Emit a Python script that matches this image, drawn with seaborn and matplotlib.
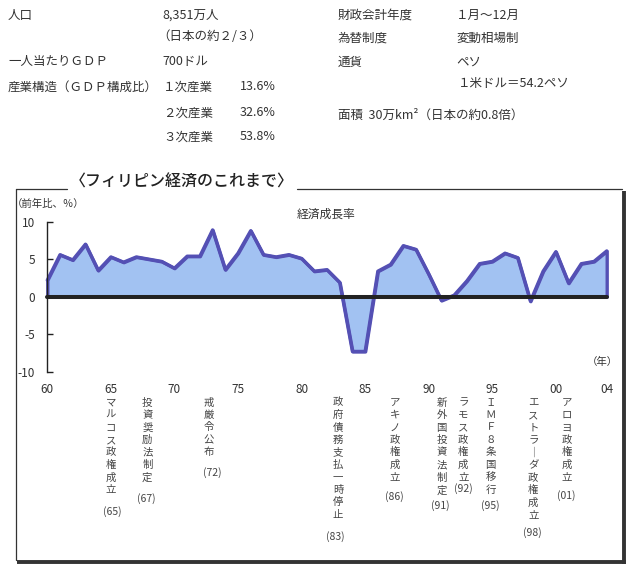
import matplotlib
matplotlib.use("Agg")
import matplotlib.pyplot as plt
import seaborn as sns
import pandas as pd
from matplotlib.lines import Line2D

# ---------------- data ----------------
years = list(range(1960, 2005))
growth = [2.2, 5.6, 4.9, 7.0, 3.5, 5.3, 4.6, 5.3, 5.0, 4.7,
          3.8, 5.4, 5.4, 8.9, 3.6, 5.8, 8.8, 5.6, 5.3, 5.6,
          5.1, 3.4, 3.6, 1.9, -7.3, -7.3, 3.4, 4.3, 6.8, 6.3,
          3.0, -0.5, 0.2, 2.1, 4.4, 4.7, 5.8, 5.2, -0.6, 3.4,
          6.0, 1.8, 4.4, 4.7, 6.1]
xtick_years = [1960, 1965, 1970, 1975, 1980, 1985, 1990, 1995, 2000, 2004]
xtick_labels = ["60", "65", "70", "75", "80", "85", "90", "95", "00", "04"]
ytick_values = [-10, -5, 0, 5, 10]

events = ["マルコス政権成立", "投資奨励法制定", "戒厳令公布", "政府債務支払一時停止",
          "アキノ政権成立", "新外国投資法制定", "ラモス政権成立", "ＩＭＦ８条国移行",
          "エストラーダ政権成立", "アロヨ政権成立"]
event_years = ["(65)", "(67)", "(72)", "(83)", "(86)", "(91)", "(92)", "(95)", "(98)", "(01)"]

info_left = [("人口", "8,351万人"), ("", "（日本の約２/３）"), ("一人当たりＧＤＰ", "700ドル"),
             ("産業構造（ＧＤＰ構成比）", "")]
industry_names = ["１次産業", "２次産業", "３次産業"]
industry_shares = ["13.6%", "32.6%", "53.8%"]
info_right = [("財政会計年度", "１月～12月"), ("為替制度", "変動相場制"), ("通貨", "ペソ")]
rate_text = "１米ドル＝54.2ペソ"
area_text = "面積  30万km²（日本の約0.8倍）"

title_text = "〈フィリピン経済のこれまで〉"
unit_text = "（前年比、％）"
series_name = "経済成長率"
year_unit = "（年）"

# ---------------- layout / style ----------------
W, H = 634, 571
FONT = ["Noto Sans CJK JP", "DejaVu Sans"]
sns.set_theme(style="white")
plt.rcParams["font.family"] = FONT
plt.rcParams["axes.unicode_minus"] = False

TXT = "#333333"
LINE_C = "#5450b4"
FILL_C = "#a2c2f2"

fig = plt.figure(figsize=(W / 100, H / 100), dpi=100)
fig.patch.set_facecolor("white")


def fx(x):
    return x / W


def fy(y):
    return 1 - y / H


# top info block
left_rows_y = [15, 36, 62, 87]
left_val_x = [162, 157, 162, 162]
for (lab, val), y, vx in zip(info_left, left_rows_y, left_val_x):
    if lab:
        fig.text(fx(8), fy(y), lab, fontsize=9, color=TXT, va="center", ha="left")
    if val:
        fig.text(fx(vx), fy(y), val, fontsize=9, color=TXT, va="center", ha="left")
ind_rows_y = [87, 113, 137]
for name, share, y in zip(industry_names, industry_shares, ind_rows_y):
    fig.text(fx(163), fy(y), name, fontsize=9, color=TXT, va="center", ha="left")
    fig.text(fx(240), fy(y), share, fontsize=9, color=TXT, va="center", ha="left")
right_rows_y = [15, 38, 62]
for (lab, val), y in zip(info_right, right_rows_y):
    fig.text(fx(338), fy(y), lab, fontsize=9, color=TXT, va="center", ha="left")
    fig.text(fx(456), fy(y), val, fontsize=9, color=TXT, va="center", ha="left")
fig.text(fx(458), fy(84), rate_text, fontsize=9, color=TXT, va="center", ha="left")
fig.text(fx(338), fy(115), area_text, fontsize=9, color=TXT, va="center", ha="left")

# frame with shadow
fl, ft, fr, fb = 15.5, 189.3, 622.3, 560.3
thin = dict(color="#333333", lw=0.9)
fig.add_artist(Line2D([fx(fl), fx(67)], [fy(ft), fy(ft)], **thin))
fig.add_artist(Line2D([fx(297), fx(fr)], [fy(ft), fy(ft)], **thin))
fig.add_artist(Line2D([fx(fl), fx(fl)], [fy(ft), fy(fb)], **thin))
thick = dict(color="#333333", lw=2.8, solid_capstyle="butt")
fig.add_artist(Line2D([fx(fr + 1.8), fx(fr + 1.8)], [fy(ft + 2), fy(fb + 3.6)], **thick))
fig.add_artist(Line2D([fx(fl + 1.5), fx(fr + 3.6)], [fy(fb + 1.8), fy(fb + 1.8)], **thick))

fig.text(fx(182), fy(182), title_text, fontsize=11.5, color="#222222",
         ha="center", va="center", fontweight="medium")
fig.text(fx(12), fy(204), unit_text, fontsize=7.5, color=TXT, ha="left", va="center")
fig.text(fx(326), fy(214), series_name, fontsize=8.5, color=TXT, ha="center", va="center")
fig.text(fx(602), fy(362), year_unit, fontsize=7.5, color=TXT, ha="center", va="center")

# chart axes
ax = fig.add_axes([fx(47.3), fy(371.7), (606.7 - 47.3) / W, 150 / H])
df = pd.DataFrame({"year": years, "growth": growth})
ax.fill_between(df["year"], df["growth"], 0, facecolor=FILL_C, edgecolor=LINE_C,
                lw=2.4, zorder=1, clip_on=False)
sns.lineplot(data=df, x="year", y="growth", ax=ax, color=LINE_C, lw=2.4, zorder=2)
for ln in ax.lines:
    ln.set_clip_on(False)
ax.axhline(0, color="#222222", lw=2.9, zorder=3, clip_on=False)

ax.set_xlim(1960, 2004)
ax.set_ylim(-10, 10)
ax.set_xticks(xtick_years)
ax.set_xticklabels(xtick_labels)
ax.set_yticks(ytick_values)
ax.set_yticklabels([str(v) for v in ytick_values])
ax.set_xlabel("")
ax.set_ylabel("")
ax.patch.set_alpha(0)
for s in ["top", "right", "bottom"]:
    ax.spines[s].set_visible(False)
ax.spines["left"].set_color("#222222")
ax.spines["left"].set_linewidth(1.0)
ax.tick_params(axis="y", direction="in", length=4, width=1, color="#222222",
               pad=9, labelsize=8.5, labelcolor=TXT, left=True)
ax.tick_params(axis="x", length=0, pad=8, labelsize=8.5, labelcolor=TXT, bottom=True)

# vertical event annotations
ev_x = [110.7, 147.3, 208.5, 338.0, 395.0, 441.7, 463.3, 490.7, 533.3, 566.7]
yr_x = [112.0, 146.0, 212.0, 335.0, 394.0, 440.5, 463.0, 490.5, 532.5, 566.0]
yr_y = [511.7, 498.3, 472.7, 536.7, 496.7, 506.0, 488.3, 506.0, 532.7, 496.0]
for ev, yl, x, x2, y2 in zip(events, event_years, ev_x, yr_x, yr_y):
    vert = "\n".join("｜" if c == "ー" else c for c in ev)
    fig.text(fx(x), fy(397.5), vert, fontsize=7.5, color="#444444", ha="center",
             va="top", linespacing=1.31)
    fig.text(fx(x2), fy(y2), yl, fontsize=7.5, color="#444444", ha="center",
             va="center")

fig.savefig("out.png", dpi=100)
